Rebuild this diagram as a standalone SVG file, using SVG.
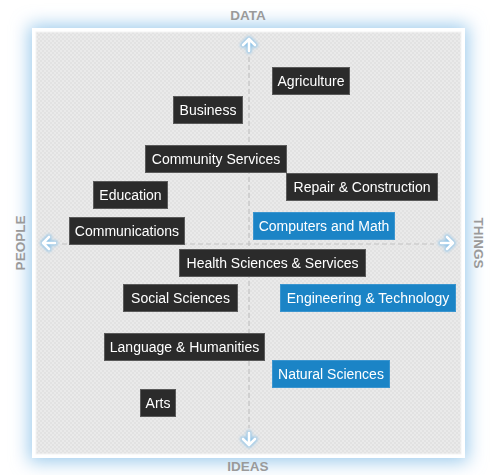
<svg xmlns="http://www.w3.org/2000/svg" width="495" height="475" viewBox="0 0 495 475">
  <defs>
    <pattern id="checker" width="4" height="4" patternUnits="userSpaceOnUse">
      <rect width="4" height="4" fill="#eaeaea"/>
      <rect width="2" height="2" fill="#e2e2e2"/>
      <rect x="2" y="2" width="2" height="2" fill="#e2e2e2"/>
    </pattern>
    <filter id="glow" x="-20%" y="-20%" width="140%" height="140%">
      <feGaussianBlur stdDeviation="9"/>
    </filter>
    <filter id="arrowGlow" x="-50%" y="-50%" width="200%" height="200%">
      <feGaussianBlur stdDeviation="1.6"/>
    </filter>
    <g id="arrowHead">
      <!-- arrow pointing up, tip at origin -->
      <path d="M0 12 V1 M-6 6 L0 0 L6 6"/>
    </g>
  </defs>
  <style>
    .box rect { stroke: #5a5a5a; stroke-width: 1; }
    .dark rect { fill: #2b2b2b; }
    .blue rect { fill: #1b84c6; stroke: #3b95cf; }
    .box text { font-family: "Liberation Sans", Arial, sans-serif; font-size: 14px; fill: #ffffff; text-anchor: middle; }
    .axis-label { font-family: "Liberation Sans", Arial, sans-serif; font-size: 13.5px; font-weight: bold; fill: #9a9a9a; text-anchor: middle; }
    .dash { stroke: #c2c2c2; stroke-width: 1.2; stroke-dasharray: 5 3; fill: none; }
    .arrow-halo { stroke: #8ec3e8; stroke-width: 5; fill: none; stroke-linecap: round; stroke-linejoin: round; }
    .arrow { stroke: #ffffff; stroke-width: 2.6; fill: none; stroke-linecap: round; stroke-linejoin: round; }
  </style>

  <!-- background and frame -->
  <rect width="495" height="475" fill="#ffffff"/>
  <rect x="29" y="25" width="439" height="437" fill="#9ccaec" filter="url(#glow)"/>
  <rect x="32" y="28" width="433" height="430" fill="#ffffff"/>
  <rect x="36" y="32" width="425" height="422" fill="url(#checker)" stroke="#f4f4f4" stroke-width="1"/>

  <!-- axis titles -->
  <text class="axis-label" x="248" y="20">DATA</text>
  <text class="axis-label" x="248" y="471">IDEAS</text>
  <text class="axis-label" transform="translate(25,243) rotate(-90)">PEOPLE</text>
  <text class="axis-label" transform="translate(474,243) rotate(90)">THINGS</text>

  <!-- connectors: axes -->
  <g id="connectors">
    <line class="dash" x1="249" y1="57" x2="249" y2="428"/>
    <line class="dash" x1="62" y1="244" x2="434" y2="244"/>
    <g filter="url(#arrowGlow)">
      <use href="#arrowHead" class="arrow-halo" transform="translate(249,39)"/>
      <use href="#arrowHead" class="arrow-halo" transform="translate(249,445) rotate(180)"/>
      <use href="#arrowHead" class="arrow-halo" transform="translate(43,243) rotate(-90)"/>
      <use href="#arrowHead" class="arrow-halo" transform="translate(453,243) rotate(90)"/>
    </g>
    <use href="#arrowHead" class="arrow" transform="translate(249,39)"/>
    <use href="#arrowHead" class="arrow" transform="translate(249,445) rotate(180)"/>
    <use href="#arrowHead" class="arrow" transform="translate(43,243) rotate(-90)"/>
    <use href="#arrowHead" class="arrow" transform="translate(453,243) rotate(90)"/>
  </g>

  <!-- nodes -->
  <g id="agriculture" class="box dark">
    <rect x="272.5" y="67.5" width="77" height="27"/>
    <text x="311" y="86">Agriculture</text>
  </g>
  <g id="business" class="box dark">
    <rect x="173.5" y="96.5" width="69" height="27"/>
    <text x="208" y="115">Business</text>
  </g>
  <g id="community-services" class="box dark">
    <rect x="145.5" y="145.5" width="141" height="27"/>
    <text x="216" y="164">Community Services</text>
  </g>
  <g id="repair-construction" class="box dark">
    <rect x="286.5" y="173.5" width="151" height="27"/>
    <text x="362" y="192">Repair &amp; Construction</text>
  </g>
  <g id="education" class="box dark">
    <rect x="93.5" y="181.5" width="74" height="27"/>
    <text x="130.5" y="200">Education</text>
  </g>
  <g id="computers-math" class="box blue">
    <rect x="253.5" y="212.5" width="141" height="27"/>
    <text x="324" y="231">Computers and Math</text>
  </g>
  <g id="communications" class="box dark">
    <rect x="69.5" y="217.5" width="115" height="27"/>
    <text x="127" y="236">Communications</text>
  </g>
  <g id="health-sciences" class="box dark">
    <rect x="179.5" y="249.5" width="186" height="27"/>
    <text x="272.5" y="268">Health Sciences &amp; Services</text>
  </g>
  <g id="social-sciences" class="box dark">
    <rect x="123.5" y="284.5" width="114" height="27"/>
    <text x="180.5" y="303">Social Sciences</text>
  </g>
  <g id="engineering-technology" class="box blue">
    <rect x="280.5" y="284.5" width="175" height="27"/>
    <text x="368" y="303">Engineering &amp; Technology</text>
  </g>
  <g id="language-humanities" class="box dark">
    <rect x="104.5" y="333.5" width="160" height="27"/>
    <text x="184.5" y="352">Language &amp; Humanities</text>
  </g>
  <g id="natural-sciences" class="box blue">
    <rect x="272.5" y="360.5" width="117" height="27"/>
    <text x="331" y="379">Natural Sciences</text>
  </g>
  <g id="arts" class="box dark">
    <rect x="140.5" y="389.5" width="35" height="27"/>
    <text x="158" y="408">Arts</text>
  </g>
</svg>
